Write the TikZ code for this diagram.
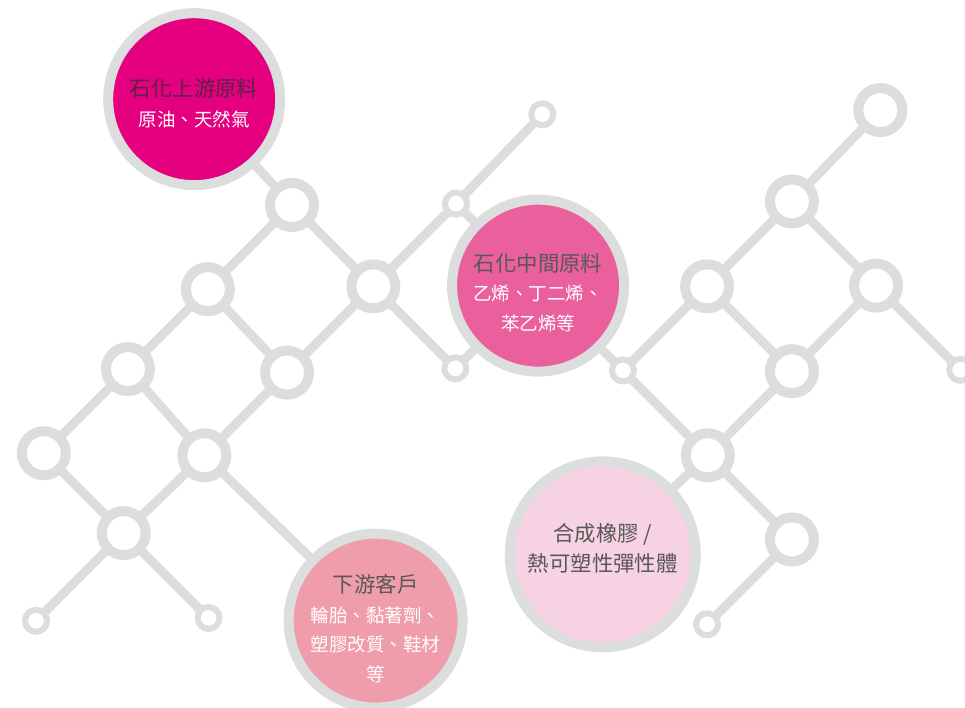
\documentclass[tikz,border=0pt]{standalone}
\usepackage{fontspec}
\usepackage{xcolor}
\usepackage{tikz}
\usetikzlibrary{positioning}
\newfontfamily\cjk{Noto Sans CJK TC}
\definecolor{ringgray}{HTML}{DCDDDD}
\definecolor{textgray}{HTML}{595757}
\definecolor{uptitle}{HTML}{5C2347}
\definecolor{upcolor}{HTML}{E4007F}
\definecolor{midcolor}{HTML}{E9609D}
\definecolor{downcolor}{HTML}{F09DAB}
\definecolor{rubbercolor}{HTML}{F7D2E3}
\newcommand{\subline}[1]{{\color{white}\fontsize{18.5}{29.5}\selectfont #1}}
\tikzset{
	ring/.style={draw=ringgray, circle, line width=10pt, fill=white, minimum size=44pt, inner sep=0pt, outer sep=0pt},
	dot/.style={draw=ringgray, circle, line width=6pt, fill=white, minimum size=22pt, inner sep=0pt, outer sep=0pt},
	link/.style={draw=ringgray, line width=9pt},
	stage/.style={draw=ringgray, circle, line width=10pt, inner sep=0pt, outer sep=0pt, align=center, text=textgray, font=\cjk\fontsize{21.4}{29.5}\selectfont},
}
\begin{document}
\begin{tikzpicture}[x=1pt, y=-1pt]
	\useasboundingbox (0,0) rectangle (965,708);
	
	\node[ring](N1) at (292,205){};
	\node[ring, below left of=N1, node distance=119pt](N2){};
	\node[ring, below right of=N1, node distance=115pt](N3){};
	\node[ring, below left of=N2, node distance=113pt](N4){};
	\node[ring, below left of=N3, node distance=122pt](N5){};
	\node[ring, below left of=N4, node distance=119pt](N6){};
	\node[ring, below left of=N5, node distance=117pt](N7){};
	\node[ring, below right of=N6, node distance=113pt](N8){};
	\node[dot, below left of=N8, node distance=124pt](S1){};
	\node[dot, below right of=N8, node distance=120pt](S2){};
	\node[dot, above right of=N3, node distance=117pt](S3){};
	\node[dot, above right of=S3, node distance=122pt, yshift=3pt](TOP){};
	\node[dot, below right of=N3, node distance=116pt](S4){};
	
	\path (N1) edge[link] (N2);
	\path (N1) edge[link] (N3);
	\path (N2) edge[link] (N4);
	\path (N2) edge[link] (N5);
	\path (N3) edge[link] (N5);
	\path (N3) edge[link] (S3);
	\path (N3) edge[link] (S4);
	\path (N4) edge[link] (N6);
	\path (N4) edge[link] (N7);
	\path (N5) edge[link] (N7);
	\path (N6) edge[link] (N8);
	\path (N7) edge[link] (N8);
	\path (N8) edge[link] (S1);
	\path (N8) edge[link] (S2);
	\path (S3) edge[link] (TOP);
	
	\node[stage, fill=upcolor, text=uptitle, minimum size=172pt, above left of=N1, node distance=144pt, xshift=4pt, yshift=4pt](UP){\rule{0pt}{26pt}石化上游原料\\ \subline{原油、天然氣}};
	\node[stage, fill=midcolor, minimum size=172pt, below right of=S3, node distance=116pt](MID){\rule{0pt}{32pt}石化中間原料\\ \subline{乙烯、丁二烯、}\\ \subline{苯乙烯等}};
	\node[stage, fill=downcolor, inner sep=-12pt, minimum size=174pt, below right of=N7, node distance=238pt, xshift=3pt, yshift=3pt](DOWN){\rule{0pt}{34pt}下游客戶\\ \subline{輪胎、黏著劑、}\\ \subline{塑膠改質、鞋材}\\ \subline{等}};
	
	\path (UP) edge[link] (N1);
	\path (S3) edge[link] (MID);
	\path (S4) edge[link] (MID);
	\path (N7) edge[link] (DOWN);
	
	\node[dot, below right of=MID, node distance=120pt](R5){};
	\node[ring, above right of=R5, node distance=119pt](R3){};
	\node[ring, above right of=R3, node distance=120pt](R2){};
	\node[ring, above right of=R2, node distance=125pt, yshift=3pt](R1){};
	\node[ring, below right of=R2, node distance=119pt](R4){};
	\node[ring, below right of=R3, node distance=120pt](R6){};
	\node[ring, below left of=R6, node distance=119pt](R7){};
	\node[ring, below right of=R7, node distance=119pt](R8){};
	\node[dot, below left of=R8, node distance=120pt](R9){};
	\node[dot, below right of=R4, node distance=119pt](RX){};
	
	\path (MID) edge[link] (R5);
	\path (R5) edge[link] (R3);
	\path (R5) edge[link] (R7);
	\path (R3) edge[link] (R2);
	\path (R3) edge[link] (R6);
	\path (R2) edge[link] (R1);
	\path (R2) edge[link] (R4);
	\path (R4) edge[link] (R6);
	\path (R4) edge[link] (RX);
	\path (R6) edge[link] (R7);
	\path (R7) edge[link] (R8);
	\path (R8) edge[link] (R9);
	
	\node[stage, fill=rubbercolor, font=\cjk\fontsize{21.4}{30}\selectfont, minimum size=186pt, below left of=R7, node distance=140pt, xshift=-6pt](RUB){合成橡膠 /\\ 熱可塑性彈性體\rule[-13pt]{0pt}{0pt}};
	
	\path (R7) edge[link] (RUB);
\end{tikzpicture}
\end{document}
